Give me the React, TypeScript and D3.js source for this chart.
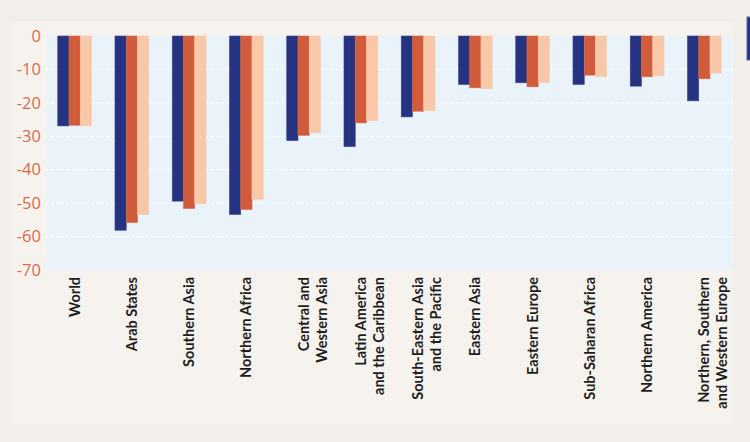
import React from "react";
import * as d3 from "d3";

const categories: string[][] = [
  ["World"],
  ["Arab States"],
  ["Southern Asia"],
  ["Northern Africa"],
  ["Central and", "Western Asia"],
  ["Latin America", "and the Caribbean"],
  ["South-Eastern Asia", "and the Pacific"],
  ["Eastern Asia"],
  ["Eastern Europe"],
  ["Sub-Saharan Africa"],
  ["Northern America"],
  ["Northern, Southern", "and Western Europe"],
];

const seriesA = [-26.9, -58.1, -49.4, -53.4, -31.3, -33.1, -24.2, -14.5, -14.0, -14.5, -15.0, -19.4];
const seriesB = [-26.7, -55.8, -51.6, -51.9, -29.7, -26.0, -22.5, -15.5, -15.2, -11.7, -12.2, -12.8];
const seriesC = [-26.9, -53.4, -50.2, -48.9, -28.9, -25.3, -22.3, -15.8, -13.9, -12.1, -11.9, -11.1];

const yTicks = [0, -10, -20, -30, -40, -50, -60, -70];
const seriesKeys = ["A", "B", "C"];
const seriesColors = ["#263381", "#d05c3c", "#f9c8a8"];

export default function App() {
  const W = 750;
  const H = 442;
  const plot = { left: 46, right: 733, top: 36, bottom: 270 };
  const keys = categories.map((c) => c.join(" "));
  const x = d3
    .scaleBand<string>()
    .domain(keys)
    .range([plot.left, plot.right])
    .paddingInner(0.41)
    .paddingOuter(0.205);
  const xs = d3.scaleBand<string>().domain(seriesKeys).range([0, x.bandwidth()]);
  const y = d3.scaleLinear().domain([-70, 0]).range([plot.bottom, plot.top]);
  const data = [seriesA, seriesB, seriesC];

  return (
    <svg
      width={W}
      height={H}
      style={{ position: "fixed", left: 0, top: 0, display: "block" }}
    >
      <rect x={0} y={0} width={W} height={H} fill="#f2eeea" />
      <rect x={13} y={21} width={720} height={403} fill="#f6f3ef" />
      <rect
        x={plot.left}
        y={plot.top}
        width={plot.right - plot.left}
        height={plot.bottom - plot.top}
        fill="#ebf3fa"
      />
      {yTicks
        .filter((t) => t !== 0 && t !== -70)
        .map((t) => (
          <line
            key={"g" + t}
            x1={plot.left}
            x2={plot.right}
            y1={y(t)}
            y2={y(t)}
            stroke="#ffffff"
            strokeOpacity={0.85}
            strokeWidth={1.2}
            strokeDasharray="3,2"
          />
        ))}
      {keys.map((k, i) => (
        <g key={k} transform={`translate(${x(k)},0)`}>
          {data.map((s, j) => {
            const v = s[i];
            return (
              <rect
                key={j}
                x={xs(seriesKeys[j])}
                y={y(0)}
                width={xs.bandwidth()}
                height={y(v) - y(0)}
                fill={seriesColors[j]}
                stroke={j === 0 ? "#3a4792" : j === 1 ? "#d8694b" : "#f6cdb2"}
                strokeWidth={0.6}
              />
            );
          })}
        </g>
      ))}
      {yTicks.map((t) => (
        <text
          key={"t" + t}
          x={41}
          y={y(t)}
          dy="0.35em"
          textAnchor="end"
          fill="#dc6a49"
          fontFamily="'Open Sans', sans-serif"
          fontSize={16.5}
        >
          {t}
        </text>
      ))}
      {categories.map((lines, i) => {
        const cx = (x(keys[i]) as number) + x.bandwidth() / 2;
        return (
          <text
            key={"c" + i}
            transform={`translate(${cx},277) rotate(-90)`}
            textAnchor="end"
            fill="#1e1e1e"
            fontFamily="Lato, sans-serif"
            fontWeight="bold"
            fontSize={14.5}
          >
            {lines.map((ln, li) => (
              <tspan key={li} x={0} y={li * 18} dy="0.35em">
                {ln}
              </tspan>
            ))}
          </text>
        );
      })}
      <rect x={747} y={17} width={10} height={43} fill="#263381" stroke="#5a66a8" strokeWidth={1} />
    </svg>
  );
}
